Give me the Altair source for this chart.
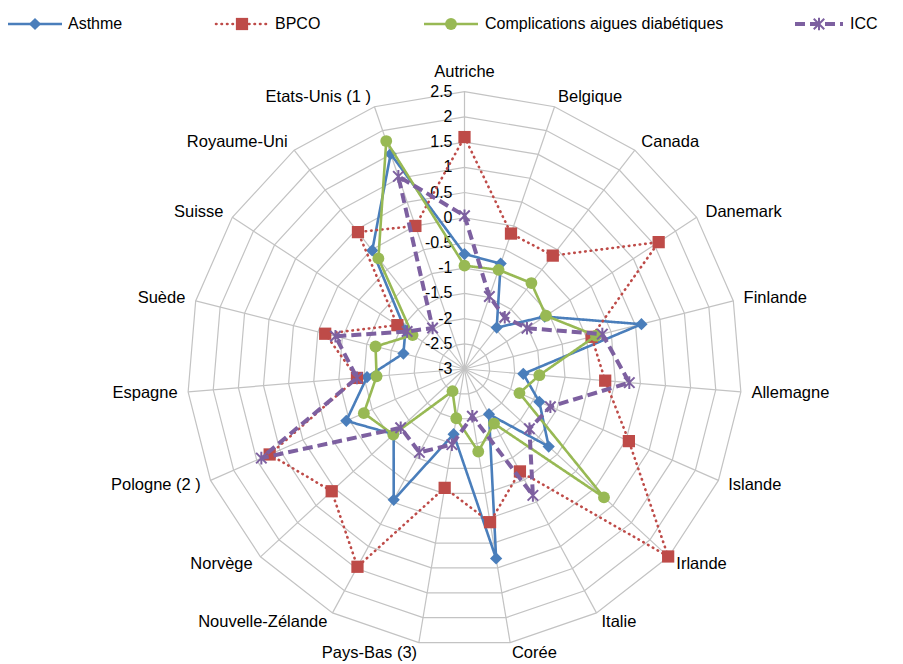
import altair as alt
import pandas as pd

# --- data -------------------------------------------------------------------
categories = [
    "Autriche", "Belgique", "Canada", "Danemark", "Finlande", "Allemagne",
    "Islande", "Irlande", "Italie", "Corée", "Pays-Bas (3)", "Nouvelle-Zélande",
    "Norvège", "Pologne (2 )", "Espagne", "Suède", "Suisse", "Royaume-Uni",
    "Etats-Unis (1 )",
]

asthme = [-0.72, -0.79, -1.96, -1.10, 0.62, -1.83, -1.38, -0.73, -1.98, 0.81,
          -1.69, -0.05, -1.09, -0.44, -1.06, -1.75, -1.60, -0.02, 1.51]
bpco = [1.60, -0.16, -0.15, 1.60, -0.40, -0.20, 0.56, 2.49, -0.69, 0.08,
        -0.61, 1.46, 0.58, 1.22, -0.86, -0.15, -1.41, 0.44, 0.00]
complications = [-0.95, -0.92, -0.84, -1.07, -0.31, -1.51, -1.81, 0.76, -1.77, -1.34,
                 -2.01, -2.50, -1.08, -0.82, -1.25, -1.18, -1.77, -0.22, 1.78]
icc = [0.04, -1.48, -1.70, -1.52, -0.18, 0.28, -1.14, -1.25, -0.15, -2.05,
       -1.48, -1.12, -1.28, 1.40, -0.86, -0.36, -1.64, -1.97, 1.04]

series_names = ["Asthme", "BPCO", "Complications aigues diabétiques", "ICC"]
series_values = [asthme, bpco, complications, icc]

levels = [-3.0, -2.5, -2.0, -1.5, -1.0, -0.5, 0.0, 0.5, 1.0, 1.5, 2.0, 2.5]
tick_labels = ["-3", "-2.5", "-2", "-1.5", "-1", "-0.5", "0", "0.5", "1", "1.5", "2", "2.5"]

# --- layout -----------------------------------------------------------------
W, H = 903, 664
CX, CY = 464.5, 369.0          # centre of the radar in pixels
UNIT = 50.42                   # pixels per value unit
R0 = levels[0]                 # value at the centre
RMAX = levels[-1] - R0         # outer ring radius in value units
N = len(categories)

FONT = "Liberation Sans"
GRID = "#C3C3C3"

styles = {
    "Asthme": dict(color="#4A7EBB", dash=[1, 0], width=2.6, cap="butt",
                   shape="diamond", size=150, filled=True, sw=0),
    "BPCO": dict(color="#BE4B48", dash=[0.5, 5], width=2.6, cap="round",
                 shape="square", size=150, filled=True, sw=0),
    "Complications aigues diabétiques": dict(color="#98B954", dash=[1, 0], width=2.6, cap="butt",
                                             shape="circle", size=140, filled=True, sw=0),
    "ICC": dict(color="#7D60A0", dash=[10, 5], width=4.0, cap="butt",
                shape="M-1,-1L1,1M-1,1L1,-1M0,-1.2L0,1.2", size=110, filled=False, sw=2),
}

# legend layout (pixels): line start, line end, text start
LEG_Y = 24
legend_pos = {
    "Asthme": (8, 62, 68),
    "BPCO": (216, 268, 275),
    "Complications aigues diabétiques": (424, 478, 485),
    "ICC": (795, 843, 850),
}

x_scale = alt.Scale(domain=[-CX / UNIT, (W - CX) / UNIT], nice=False, zero=False)
y_scale = alt.Scale(domain=[-(H - CY) / UNIT, CY / UNIT], nice=False, zero=False)


def X(field):
    return alt.X(field, type="quantitative", scale=x_scale, axis=None)


def Y(field):
    return alt.Y(field, type="quantitative", scale=y_scale, axis=None)


ANG = f"2 * PI * datum.idx / {N}"

# --- grid -------------------------------------------------------------------
ring_df = pd.DataFrame(
    [{"level": lv, "idx": i} for lv in levels[1:] for i in range(N)]
)
rings = (
    alt.Chart(ring_df)
    .transform_calculate(r=f"datum.level - ({R0})")
    .transform_calculate(gx=f"datum.r * sin({ANG})", gy=f"datum.r * cos({ANG})")
    .mark_line(interpolate="linear-closed", color=GRID, strokeWidth=1.2)
    .encode(x=X("gx"), y=Y("gy"), detail="level:N", order="idx:Q")
)

cat_df = pd.DataFrame({"idx": list(range(N)), "category": categories})
spokes = (
    alt.Chart(cat_df)
    .transform_calculate(
        x0="0", y0="0",
        x1=f"{RMAX} * sin({ANG})", y1=f"{RMAX} * cos({ANG})",
    )
    .mark_rule(color=GRID, strokeWidth=1.2)
    .encode(x=X("x0"), y=Y("y0"), x2="x1:Q", y2="y1:Q")
)

tick_df = pd.DataFrame({"level": levels, "label": tick_labels})
ticks = (
    alt.Chart(tick_df)
    .transform_calculate(tx="0", ty=f"datum.level - ({R0})")
    .mark_text(align="right", baseline="middle", dx=-12, font=FONT, fontSize=16, color="#000000")
    .encode(x=X("tx"), y=Y("ty"), text="label:N")
)

# category labels just outside the outer ring
LABEL_R = RMAX + 0.21
lab_base = (
    alt.Chart(cat_df)
    .transform_calculate(s=f"sin({ANG})", c=f"cos({ANG})")
    .transform_calculate(lx=f"{LABEL_R} * datum.s", ly=f"{LABEL_R} * datum.c")
)
lab_enc = dict(x=X("lx"), y=Y("ly"), text="category:N")
lab_kw = dict(font=FONT, fontSize=16.5, color="#000000", baseline="middle")
labels_right = lab_base.transform_filter("datum.s > 0.05").mark_text(align="left", **lab_kw).encode(**lab_enc)
labels_left = lab_base.transform_filter("datum.s < -0.05").mark_text(align="right", **lab_kw).encode(**lab_enc)
labels_top = lab_base.transform_filter("abs(datum.s) <= 0.05").mark_text(align="center", dy=-9, **lab_kw).encode(**lab_enc)

# --- series -----------------------------------------------------------------
series_layers = []
legend_layers = []
for name, vals in zip(series_names, series_values):
    st = styles[name]
    df = pd.DataFrame({"idx": list(range(N)), "value": vals})
    base = (
        alt.Chart(df)
        .transform_calculate(r=f"datum.value - ({R0})")
        .transform_calculate(px=f"datum.r * sin({ANG})", py=f"datum.r * cos({ANG})")
    )
    line = base.mark_line(
        interpolate="linear-closed", color=st["color"], strokeWidth=st["width"],
        strokeDash=st["dash"], strokeCap=st["cap"],
    ).encode(x=X("px"), y=Y("py"), order="idx:Q")
    pts = base.mark_point(
        shape=st["shape"], size=st["size"], filled=st["filled"], opacity=1,
        color=st["color"], strokeWidth=st["sw"] if not st["filled"] else 0,
    ).encode(x=X("px"), y=Y("py"))
    series_layers += [line, pts]

    x0, x1, tx = legend_pos[name]
    ldf = pd.DataFrame({"label": [name]})
    lrule = alt.Chart(ldf).mark_rule(
        color=st["color"], strokeWidth=st["width"], strokeDash=st["dash"], strokeCap=st["cap"]
    ).encode(x=alt.value(x0), x2=alt.value(x1), y=alt.value(LEG_Y))
    lpt = alt.Chart(ldf).mark_point(
        shape=st["shape"], size=st["size"], filled=st["filled"], opacity=1,
        color=st["color"], strokeWidth=st["sw"] if not st["filled"] else 0,
    ).encode(x=alt.value((x0 + x1) / 2), y=alt.value(LEG_Y))
    ltxt = alt.Chart(ldf).mark_text(
        align="left", baseline="middle", font=FONT, fontSize=16, color="#000000"
    ).encode(x=alt.value(tx), y=alt.value(LEG_Y), text="label:N")
    legend_layers += [lrule, lpt, ltxt]

chart = (
    alt.layer(rings, spokes, ticks, labels_right, labels_left, labels_top,
              *series_layers, *legend_layers)
    .properties(width=W, height=H, padding=0, autosize="none", background="#FFFFFF")
    .configure_view(stroke=None)
)

chart.save("out.html", embed_options={"renderer": "svg", "actions": False})
